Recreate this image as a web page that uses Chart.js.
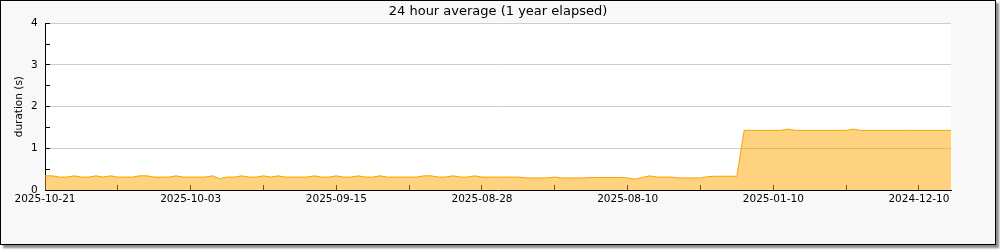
<!DOCTYPE html>
<html>
<head>
<meta charset="utf-8">
<script src="https://cdn.jsdelivr.net/npm/chart.js@4/dist/chart.umd.min.js"></script>
<style>
  html, body { margin: 0; padding: 0; background: #ffffff; width: 1000px; height: 250px; overflow: hidden; }
  #frame { position: absolute; left: 0; top: 0; width: 994px; height: 243px; border: 1px solid #000; background: #f8f8f8; box-shadow: 3px 3px 2px #8a8a8a; }
  #c { position: absolute; left: 0; top: 0; }
</style>
</head>
<body>
<div id="frame"></div>
<canvas id="c" width="1000" height="250"></canvas>
<script>
// ---- data ----
const chartTitle = '24 hour average (1 year elapsed)';
const yAxisTitle = 'duration (s)';
// tick labels placed every 20 x-units (ticks every 10 units)
const tickLabels = ['2025-10-21', '2025-10-03', '2025-09-15', '2025-08-28', '2025-08-10', '2025-01-10', '2024-12-10'];
// average duration (s), one value per x-unit, left to right
const durations = [
  0.34, 0.34, 0.31, 0.31, 0.34, 0.31, 0.31, 0.34, 0.31, 0.34,
  0.31, 0.31, 0.31, 0.34, 0.34, 0.31, 0.31, 0.31, 0.34, 0.31,
  0.31, 0.31, 0.31, 0.34, 0.27, 0.31, 0.31, 0.34, 0.31, 0.31,
  0.34, 0.31, 0.34, 0.31, 0.31, 0.31, 0.31, 0.34, 0.31, 0.31,
  0.34, 0.31, 0.31, 0.34, 0.31, 0.31, 0.34, 0.31, 0.31, 0.31,
  0.31, 0.31, 0.34, 0.34, 0.31, 0.31, 0.34, 0.31, 0.31, 0.34,
  0.31, 0.31, 0.31, 0.31, 0.31, 0.31, 0.29, 0.29, 0.29, 0.29,
  0.31, 0.29, 0.29, 0.29, 0.29, 0.30, 0.30, 0.30, 0.30, 0.30,
  0.29, 0.26, 0.30, 0.34, 0.31, 0.31, 0.31, 0.29, 0.29, 0.29,
  0.29, 0.32, 0.33, 0.33, 0.33, 0.33, 1.43, 1.43, 1.43, 1.43,
  1.43, 1.43, 1.46, 1.43, 1.43, 1.43, 1.43, 1.43, 1.43, 1.43,
  1.43, 1.46, 1.43, 1.43, 1.43, 1.43, 1.43, 1.43, 1.43, 1.43,
  1.43, 1.43, 1.43, 1.43, 1.43, 1.43
];
const xMax = 124.4;
const yMax = 4;

const FONT = 'DejaVu Sans';
const points = durations.map((v, i) => ({ x: i, y: v }));

const plotBg = {
  id: 'plotBg',
  beforeDraw(chart) {
    const { ctx, chartArea: a } = chart;
    ctx.save();
    ctx.fillStyle = '#ffffff';
    ctx.fillRect(a.left, a.top, a.right - a.left, a.bottom - a.top);
    ctx.restore();
  }
};

new Chart(document.getElementById('c'), {
  type: 'line',
  data: {
    datasets: [{
      data: points,
      borderColor: '#f5a300',
      backgroundColor: 'rgba(255,165,0,0.5)',
      borderWidth: 1,
      fill: 'origin',
      pointRadius: 0,
      tension: 0,
      xAxisID: 'x',
      yAxisID: 'y'
    }]
  },
  options: {
    responsive: false,
    animation: false,
    devicePixelRatio: 1,
    layout: { padding: { left: 0, right: 4, top: 0, bottom: 0 } },
    plugins: {
      legend: { display: false },
      tooltip: { enabled: false },
      title: {
        display: true,
        text: chartTitle,
        color: '#000',
        font: { family: FONT, size: 13, weight: 'normal' },
        padding: { top: 4, bottom: 3.7 }
      }
    },
    scales: {
      x: {
        type: 'linear',
        min: 0,
        max: xMax,
        afterFit(s) { s.height = 60; },
        border: { display: true, color: '#000', width: 1 },
        grid: { drawOnChartArea: false, tickLength: -5, tickColor: '#000' },
        ticks: {
          stepSize: 10,
          includeBounds: false,
          autoSkip: false,
          maxRotation: 0,
          color: '#000',
          padding: 8,
          font: { family: FONT, size: 10.5 },
          callback(v) { return v % 20 === 0 ? (tickLabels[v / 20] || '') : ''; }
        }
      },
      y: {
        min: 0,
        max: yMax,
        afterFit(s) { s.width = 45; },
        border: { display: true, color: '#000', width: 1 },
        grid: {
          color: (c) => (c.tick && c.tick.value % 1 === 0 && c.tick.value !== 0) ? '#cccccc' : 'rgba(0,0,0,0)',
          tickLength: -5,
          tickColor: '#000'
        },
        title: {
          display: true,
          text: yAxisTitle,
          color: '#000',
          font: { family: FONT, size: 10.5 },
          padding: { top: 13, bottom: 0 }
        },
        ticks: {
          stepSize: 0.5,
          autoSkip: false,
          color: '#000',
          padding: 12.3,
          font: { family: FONT, size: 10.5 },
          callback(v) { return v % 1 === 0 ? String(v) : ''; }
        }
      },
      yRightSpace: {
        position: 'right',
        min: 0,
        max: yMax,
        afterFit(s) { s.width = 45; },
        border: { display: false },
        grid: { display: false },
        ticks: { display: false }
      }
    }
  },
  plugins: [plotBg]
});
</script>
</body>
</html>
